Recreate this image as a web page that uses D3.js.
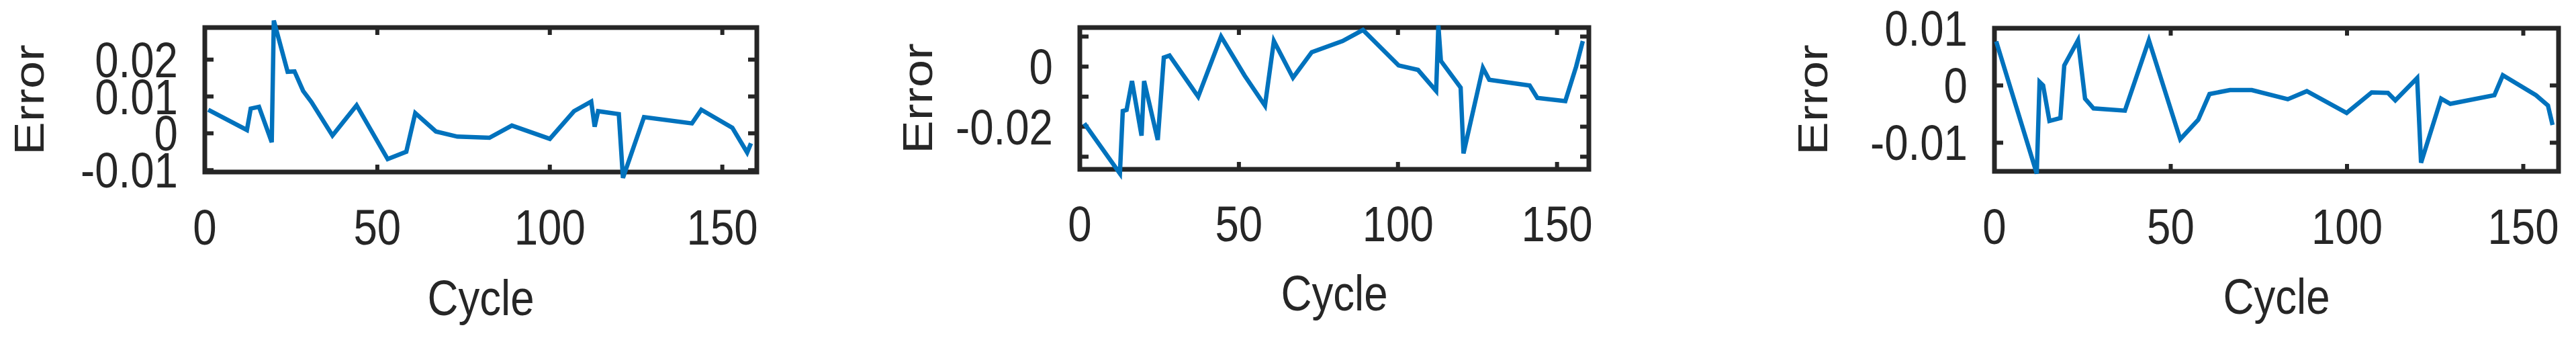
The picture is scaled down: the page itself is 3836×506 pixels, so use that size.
<!DOCTYPE html>
<html><head><meta charset="utf-8">
<script src="https://cdn.jsdelivr.net/npm/d3@7"></script>
<style>body{margin:0;background:#fff}text{font-family:"Liberation Sans",Arial,sans-serif;fill:#262626}</style>
</head><body>
<svg id="c" width="3836" height="506"></svg>
<script>
const cycles1=[1,12.2,13.3,15.7,19.4,20,24,26,28.5,30.9,37,44,53,58.4,61,67,73.2,82.5,89,100,107,112,113,114,120,121.2,127.3,141.2,143.9,152.9,157.2,158.3];
const errors1=[0.0064,0.0009,0.0067,0.0072,-0.0024,0.0306,0.0167,0.0168,0.0115,0.0085,-0.0006,0.0076,-0.007,-0.005,0.0055,0.0005,-0.0009,-0.0012,0.0021,-0.0015,0.006,0.0086,0.0018,0.006,0.0052,-0.0121,0.0044,0.0027,0.0064,0.0015,-0.0052,-0.0027];
const cycles2=[1.4,12.6,13.5,14.7,16.4,19.4,20.2,24.5,26.4,28.2,37.2,44.4,51.8,58.2,61,67,72.9,82.6,89,100.2,106.3,112,112.7,113.5,119.7,120.6,126.7,128.7,141.4,143.8,152.6,156,158.1];
const errors2=[-0.0189,-0.0356,-0.0148,-0.0144,-0.0048,-0.023,-0.0048,-0.0244,0.003,0.0037,-0.01,0.01,-0.003,-0.013,0.0085,-0.0037,0.0048,0.0085,0.0122,0.0004,-0.0011,-0.0081,0.0137,0.0019,-0.007,-0.0289,-0.0004,-0.0044,-0.0063,-0.0104,-0.0115,0,0.0085];
const cycles3=[0.5,12,12.8,13.8,15.6,18.7,19.8,23.7,25.7,28.1,37,43.8,52.7,57.8,61,66.8,73,83.2,88.6,99.9,107,111.6,113.7,119.9,121,126.7,129.3,141.8,144.2,153.6,157,158.3];
const errors3=[0.0077,-0.0154,0.0006,0,-0.0062,-0.0057,0.0035,0.0079,-0.0023,-0.004,-0.0044,0.0079,-0.0094,-0.006,-0.0015,-0.0008,-0.0008,-0.0024,-0.001,-0.0048,-0.0012,-0.0013,-0.0026,0.0013,-0.0135,-0.0023,-0.0032,-0.0017,0.0018,-0.0017,-0.0035,-0.0069];
const xTicks=[0,50,100,150];
const yTicks1=[-0.01,0,0.01,0.02], yLabels1=[-0.01,0,0.01,0.02];
const yTicks2=[-0.03,-0.02,-0.01,0,0.01], yLabels2=[-0.02,0];
const yTicks3=[-0.01,0,0.01], yLabels3=[-0.01,0,0.01];

const panels=[
 {x:cycles1,y:errors1,yd:[-0.0105,0.0287],yt:yTicks1,yl:yLabels1,L:305,R:1127,T:41,B:256,eOff:262,tb:364,cb:469},
 {x:cycles2,y:errors2,yd:[-0.0342,0.013],yt:yTicks2,yl:yLabels2,L:1608,R:2366,T:41,B:252,eOff:242,tb:359,cb:462},
 {x:cycles3,y:errors3,yd:[-0.015,0.01],yt:yTicks3,yl:yLabels3,L:2970,R:3810,T:42,B:255,eOff:271,tb:363,cb:467}
];
const svg=d3.select("#c");
const fs=74, sx=0.86;
panels.forEach(p=>{
 const x=d3.scaleLinear().domain([0,160]).range([p.L,p.R]);
 const y=d3.scaleLinear().domain(p.yd).range([p.B,p.T]);
 const g=svg.append("g");
 xTicks.forEach(t=>{
  g.append("line").attr("x1",x(t)).attr("x2",x(t)).attr("y1",p.B).attr("y2",p.B-11).attr("stroke","#262626").attr("stroke-width",6);
  g.append("line").attr("x1",x(t)).attr("x2",x(t)).attr("y1",p.T).attr("y2",p.T+11).attr("stroke","#262626").attr("stroke-width",6);
  g.append("text").attr("transform",`translate(${x(t)},${p.tb}) scale(${sx},1)`).attr("text-anchor","middle").attr("font-size",fs).text(d3.format("d")(t));
 });
 p.yt.forEach(t=>{
  const yy=y(t); if(yy<p.T-1||yy>p.B+1) return;
  g.append("line").attr("x1",p.L).attr("x2",p.L+13).attr("y1",yy).attr("y2",yy).attr("stroke","#262626").attr("stroke-width",6);
  g.append("line").attr("x1",p.R).attr("x2",p.R-13).attr("y1",yy).attr("y2",yy).attr("stroke","#262626").attr("stroke-width",6);
 });
 p.yl.forEach(t=>{
  g.append("text").attr("transform",`translate(${p.L-40},${y(t)+26}) scale(${sx},1)`).attr("text-anchor","end").attr("font-size",fs).text(t===0?"0":String(t));
 });
 g.append("rect").attr("x",p.L).attr("y",p.T).attr("width",p.R-p.L).attr("height",p.B-p.T).attr("fill","none").attr("stroke","#262626").attr("stroke-width",7);
 const line=d3.line().x((d,i)=>x(p.x[i])).y(d=>y(d));
 g.append("path").attr("d",line(p.y)).attr("fill","none").attr("stroke","#0072BD").attr("stroke-width",6.5).attr("stroke-linejoin","miter");
 g.append("text").attr("transform",`translate(${(p.L+p.R)/2},${p.cb}) scale(${sx},1)`).attr("text-anchor","middle").attr("font-size",fs).text("Cycle");
 g.append("text").attr("transform",`translate(${p.L-p.eOff+22},${(p.T+p.B)/2}) scale(${sx},1) rotate(-90)`).attr("text-anchor","middle").attr("font-size",fs).text("Error");
});
</script></body></html>
